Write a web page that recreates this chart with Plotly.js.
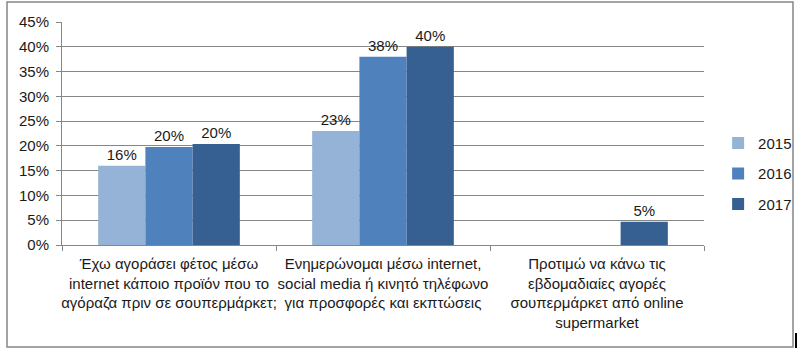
<!DOCTYPE html>
<html>
<head>
<meta charset="utf-8">
<script src="https://cdn.plot.ly/plotly-3.0.1.min.js"></script>
<style>
  html, body { margin: 0; padding: 0; background: #ffffff; }
  #chart { width: 811px; height: 362px; }
</style>
</head>
<body>
<div id="chart"></div>
<script>
const categories = [
  "Έχω αγοράσει φέτος μέσω<br>internet κάποιο προϊόν που το<br>αγόραζα πριν σε σουπερμάρκετ;",
  "Ενημερώνομαι μέσω internet,<br>social media ή κινητό τηλέφωνο<br>για προσφορές και εκπτώσεις",
  "Προτιμώ να κάνω τις<br>εβδομαδιαίες αγορές<br>σουπερμάρκετ από online<br>supermarket"
];
const years = ["2015", "2016", "2017"];
const values2015 = [0.16, 0.23, null];
const values2016 = [0.198, 0.38, null];
const values2017 = [0.204, 0.40, 0.047];
const labels2015 = ["16%", "23%", ""];
const labels2016 = ["20%", "38%", ""];
const labels2017 = ["20%", "40%", "5%"];
const yTickVals = [0, 0.05, 0.10, 0.15, 0.20, 0.25, 0.30, 0.35, 0.40, 0.45];
const yTickText = ["0%", "5%", "10%", "15%", "20%", "25%", "30%", "35%", "40%", "45%"];

const colors = ["#95b3d7", "#4f81bd", "#366092"];
const seriesVals = [values2015, values2016, values2017];
const seriesLabels = [labels2015, labels2016, labels2017];
const FONT = "Liberation Sans, Arial, sans-serif";
const TXT = "#1a1a1a";

const traces = years.map((y, i) => ({
  type: "bar",
  name: y,
  x: categories,
  y: seriesVals[i],
  text: seriesLabels[i],
  textposition: "outside",
  textfont: { family: FONT, size: 15, color: TXT },
  cliponaxis: false,
  marker: { color: colors[i] },
  legendgroup: "g" + i,
  hoverinfo: "none"
}));

const layout = {
  width: 811,
  height: 362,
  margin: { l: 62, r: 107, t: 22, b: 117, pad: 0, autoexpand: false },
  paper_bgcolor: "#ffffff",
  plot_bgcolor: "#ffffff",
  barmode: "group",
  bargap: 0.338,
  bargroupgap: 0,
  showlegend: true,
  font: { family: FONT, size: 15, color: TXT },
  legend: {
    x: 1.022, xanchor: "left",
    y: 0.32, yanchor: "middle",
    font: { family: FONT, size: 15, color: TXT },
    tracegroupgap: 8,
    itemwidth: 30,
    bgcolor: "rgba(0,0,0,0)"
  },
  xaxis: {
    type: "category",
    showgrid: false,
    showline: true,
    linecolor: "#868686",
    linewidth: 1,
    ticks: "outside",
    tickson: "boundaries",
    ticklen: 5,
    tickcolor: "#868686",
    tickangle: 0,
    ticklabelstandoff: 5,
    tickfont: { family: FONT, size: 15, color: TXT },
    automargin: false,
    fixedrange: true
  },
  yaxis: {
    range: [0, 0.45],
    tickvals: yTickVals,
    ticktext: yTickText,
    showgrid: true,
    gridcolor: "#868686",
    gridwidth: 1,
    showline: true,
    linecolor: "#868686",
    linewidth: 1,
    ticks: "outside",
    ticklen: 5,
    tickcolor: "#868686",
    ticklabelstandoff: 4,
    tickfont: { family: FONT, size: 15, color: TXT },
    zeroline: false,
    automargin: false,
    fixedrange: true
  },
  shapes: [
    {
      type: "rect", xref: "paper", yref: "paper",
      x0: (7 - 62) / 642, x1: (793 - 62) / 642,
      y0: (245 - 347) / 223, y1: (245 - 2) / 223,
      line: { color: "#868686", width: 1.5 },
      fillcolor: "rgba(0,0,0,0)",
      layer: "below"
    },
    {
      type: "line", xref: "paper", yref: "paper",
      x0: (796 - 62) / 642, x1: (796 - 62) / 642,
      y0: (245 - 333) / 223, y1: (245 - 348) / 223,
      line: { color: "#000000", width: 2 }
    }
  ]
};

Plotly.newPlot("chart", traces, layout, { displayModeBar: false, staticPlot: true });
</script>
</body>
</html>
